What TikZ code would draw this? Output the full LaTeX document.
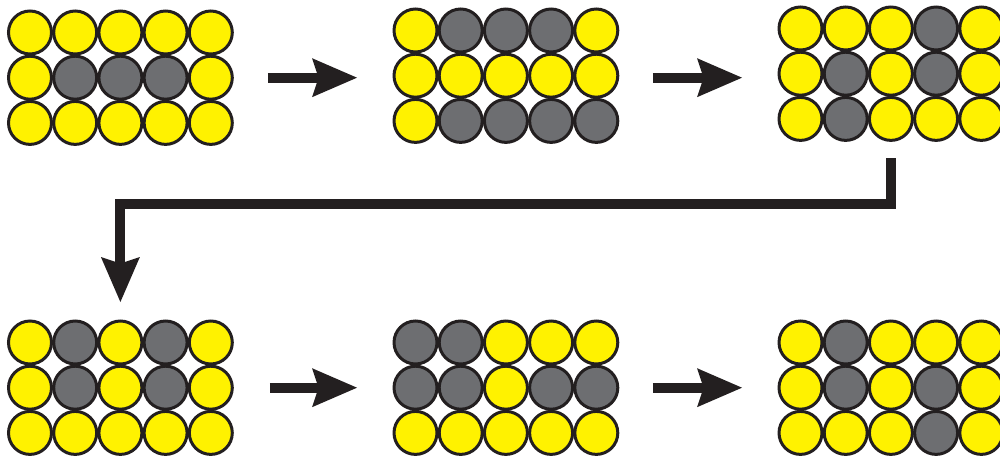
\documentclass[tikz,border=0pt]{standalone}
\usepackage{xcolor}
\usetikzlibrary{arrows.meta}
\definecolor{ballyellow}{HTML}{FFF200}
\definecolor{ballgray}{HTML}{6D6E71}
\definecolor{lineblk}{HTML}{231F20}
\tikzset{
  ball/.style={circle, draw=lineblk, line width=0.06cm, minimum size=0.86cm, inner sep=0pt, outer sep=0pt},
  yel/.style={fill=ballyellow},
  gry/.style={fill=ballgray},
  flow/.style={draw=lineblk, line width=0.2cm, line join=miter,
    -{Stealth[length=0.9cm, width=0.78cm, inset=0.13cm, line width=0pt]}}
}
% one 5x3 block of balls: name, x, y of top left ball, rows
\newcommand{\ballgrid}[4]{%
  \foreach \rowcols [count=\r] in {#4} {
    \foreach \c [count=\k] in \rowcols {
      \node[ball, \c] (#1-\r-\k) at ({#2+(\k-1)*45.2},{#3+(\r-1)*45.2}) {};
    }
  }
}
\begin{document}
\begin{tikzpicture}[x=0.02cm, y=-0.02cm]
	\useasboundingbox (0,0) rectangle (1000,459);
	\clip (0,0) rectangle (1000,459);

	% top row
	\ballgrid{g1}{30}{32.5}{{yel,yel,yel,yel,yel},{yel,gry,gry,gry,yel},{yel,yel,yel,yel,yel}}
	\ballgrid{g2}{415.5}{30.5}{{yel,gry,gry,gry,yel},{yel,yel,yel,yel,yel},{yel,gry,gry,gry,gry}}
	\ballgrid{g3}{800.5}{28.5}{{yel,yel,yel,gry,yel},{yel,gry,yel,gry,yel},{yel,gry,yel,yel,yel}}

	% bottom row
	\ballgrid{g4}{30}{342.5}{{yel,gry,yel,gry,yel},{yel,gry,yel,gry,yel},{yel,yel,yel,yel,yel}}
	\ballgrid{g5}{415.5}{342.5}{{gry,gry,yel,yel,yel},{gry,gry,yel,gry,gry},{yel,yel,yel,yel,yel}}
	\ballgrid{g6}{800.5}{342.5}{{yel,gry,yel,yel,yel},{yel,gry,yel,gry,yel},{yel,yel,yel,gry,yel}}

	\draw [flow, shorten <=0.71cm, shorten >=0.74cm] (g1-2-5.east) -- (g1-2-5.east -| g2-2-1.west);
	\draw [flow, shorten <=0.7cm, shorten >=0.74cm] (g1-2-5.east -| g2-2-5.east) -- (g1-2-5.east -| g3-2-1.west);

	\coordinate (bend) at (500,204);
	\draw [flow, shorten <=0.36cm, shorten >=0.38cm] (g3-3-3.south) |- (bend) -| (g4-1-3.north);

	\draw [flow, shorten <=0.75cm, shorten >=0.74cm] (g4-2-5.east) -- (g5-2-1.west);
	\draw [flow, shorten <=0.7cm, shorten >=0.74cm] (g5-2-5.east) -- (g6-2-1.west);
\end{tikzpicture}
\end{document}
